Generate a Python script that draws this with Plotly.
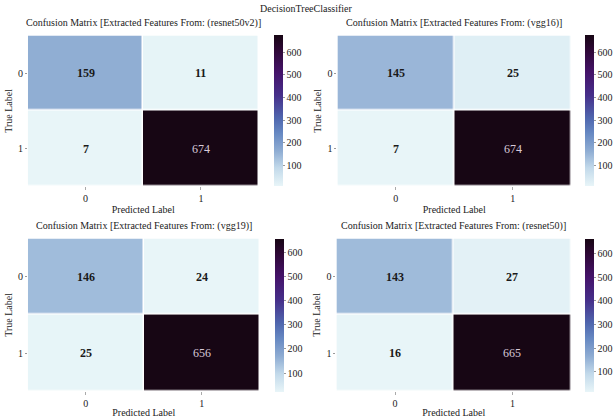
import plotly.graph_objects as go

# Confusion matrices
labels = ["0", "1"]
titles = [
    "Confusion Matrix [Extracted Features From: (resnet50v2)]",
    "Confusion Matrix [Extracted Features From: (vgg16)]",
    "Confusion Matrix [Extracted Features From: (vgg19)]",
    "Confusion Matrix [Extracted Features From: (resnet50)]",
]
cm_resnet50v2 = [[159, 11], [7, 674]]
cm_vgg16 = [[145, 25], [7, 674]]
cm_vgg19 = [[146, 24], [25, 656]]
cm_resnet50 = [[143, 27], [16, 665]]
matrices = [cm_resnet50v2, cm_vgg16, cm_vgg19, cm_resnet50]
cbar_ticks = [100, 200, 300, 400, 500, 600]

W, H = 613, 418

# light blue -> blue -> purple -> near black
scale = [
    [0.0, "#e8f5f8"],
    [0.12, "#c2d9ea"],
    [0.23, "#8fadd3"],
    [0.35, "#6688c2"],
    [0.45, "#4f66ae"],
    [0.6, "#462f8a"],
    [0.75, "#45136a"],
    [0.9, "#2e0836"],
    [1.0, "#170614"],
]

font = "Liberation Serif"

# pixel boxes for each panel: heatmap x0, x1, y0, y1, colorbar x
boxes = [
    (28, 259, 36, 189, 274),
    (338, 572, 36, 189, 586),
    (28, 260, 242, 397, 275),
    (337, 572, 242, 397, 586),
]

fig = go.Figure()
layout = dict(
    width=W, height=H,
    margin=dict(l=0, r=0, t=0, b=0),
    plot_bgcolor="white", paper_bgcolor="white",
    font=dict(family=font, size=10, color="#222222"),
    showlegend=False,
)
annotations = []

for i, (cm, title, box) in enumerate(zip(matrices, titles, boxes)):
    x0, x1, y0, y1, cbx = box
    n = "" if i == 0 else str(i + 1)
    zmin = min(min(r) for r in cm)
    zmax = max(max(r) for r in cm)
    fig.add_trace(go.Heatmap(
        z=cm, x=labels, y=labels,
        xaxis="x" + n, yaxis="y" + n,
        coloraxis="coloraxis" + n,
        xgap=1.5, ygap=1.5,
        hoverinfo="z",
    ))
    layout["xaxis" + n] = dict(
        domain=[x0 / W, x1 / W], anchor="y" + n,
        showgrid=False, zeroline=False, showline=False,
        ticks="outside", ticklen=3, tickcolor="#aaaaaa",
        tickfont=dict(size=10), type="category",
        title=dict(text="Predicted Label", font=dict(size=10), standoff=2),
    )
    layout["yaxis" + n] = dict(
        domain=[1 - y1 / H, 1 - y0 / H], anchor="x" + n,
        showgrid=False, zeroline=False, showline=False,
        ticks="outside", ticklen=2, tickcolor="#999999",
        tickfont=dict(size=10), type="category", autorange="reversed",
        title=dict(text="True Label", font=dict(size=10), standoff=3),
    )
    layout["coloraxis" + n] = dict(
        colorscale=scale, cmin=zmin, cmax=zmax,
        colorbar=dict(
            x=cbx / W, xanchor="left", xpad=0,
            y=1 - y0 / H, yanchor="top", ypad=0,
            len=(y1 - y0) / H, lenmode="fraction",
            thickness=9, outlinewidth=0,
            tickvals=cbar_ticks, ticks="outside", ticklen=2,
            tickcolor="#999999", tickfont=dict(size=10),
        ),
    )
    annotations.append(dict(
        text=title, xref="paper", yref="paper",
        x=(x0 + x1) / 2 / W, y=1 - (y0 - 5) / H,
        xanchor="center", yanchor="bottom", showarrow=False,
        font=dict(size=10),
    ))
    mid = (zmin + zmax) / 2
    for r, row in enumerate(cm):
        for c, v in enumerate(row):
            annotations.append(dict(
                text="<b>%d</b>" % v if v < mid else "%d" % v,
                xref="x" + n, yref="y" + n,
                x=labels[c], y=labels[r], showarrow=False,
                font=dict(size=12, color="#1a1a1a" if v < mid else "#d9c9d9"),
            ))

annotations.append(dict(
    text="DecisionTreeClassifier", xref="paper", yref="paper",
    x=0.5, y=1 - 1 / H, xanchor="center", yanchor="top", showarrow=False,
    font=dict(size=10),
))
layout["annotations"] = annotations
fig.update_layout(layout)
fig.write_html("out.html", config={"displayModeBar": False},
               post_script="document.body.style.margin='0';")
